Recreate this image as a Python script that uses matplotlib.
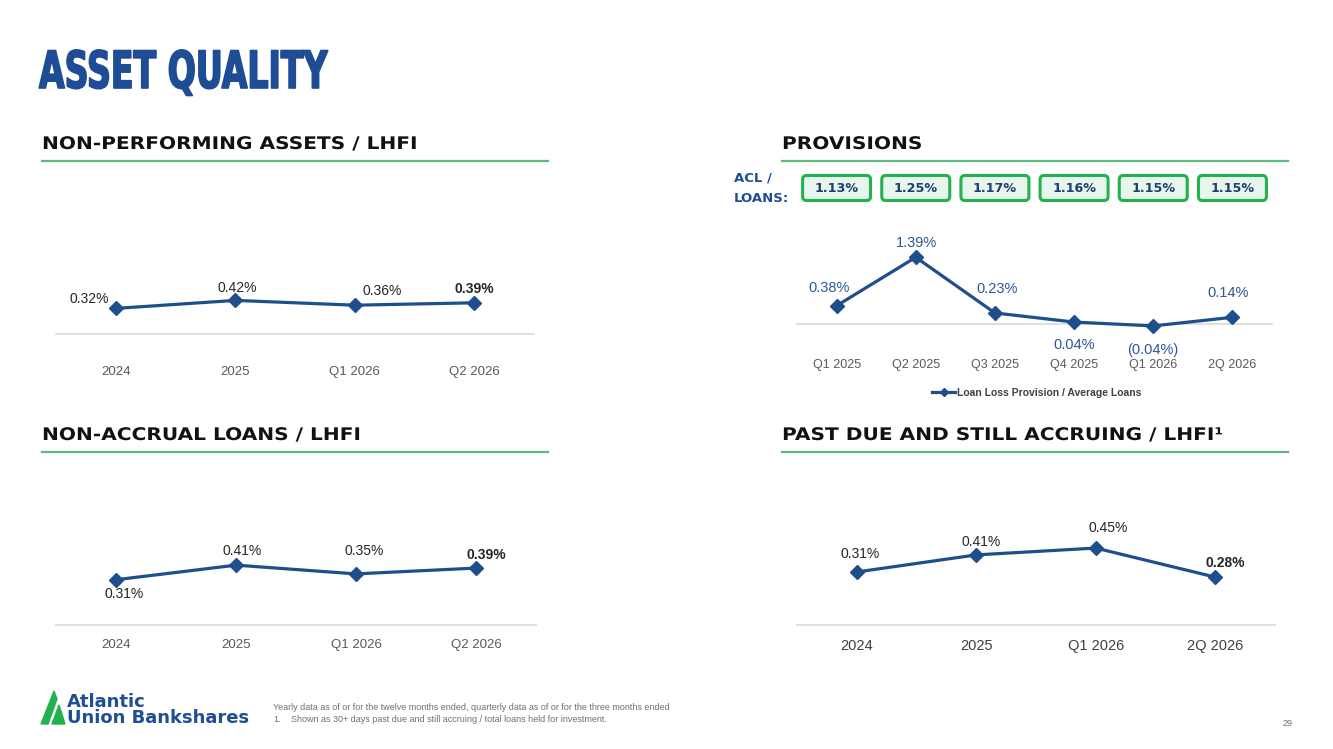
import matplotlib
matplotlib.use("Agg")
import matplotlib.pyplot as plt
from matplotlib.patches import FancyBboxPatch, Polygon
from matplotlib.patheffects import AbstractPathEffect
from matplotlib.transforms import Affine2D, IdentityTransform
from matplotlib.lines import Line2D

# ---- data ----
npa_labels = ["2024", "2025", "Q1 2026", "Q2 2026"]
npa_values = [0.32, 0.42, 0.36, 0.39]

prov_labels = ["Q1 2025", "Q2 2025", "Q3 2025", "Q4 2025", "Q1 2026", "2Q 2026"]
prov_values = [0.38, 1.39, 0.23, 0.04, -0.04, 0.14]
acl_values = [1.13, 1.25, 1.17, 1.16, 1.15, 1.15]

nal_labels = ["2024", "2025", "Q1 2026", "Q2 2026"]
nal_values = [0.31, 0.41, 0.35, 0.39]

pd_labels = ["2024", "2025", "Q1 2026", "2Q 2026"]
pd_values = [0.31, 0.41, 0.45, 0.28]

W, H = 1333, 749
BLUE = "#1F4E8C"
TITLE_BLUE = "#1E4D96"
GREEN_LINE = "#5DB97F"

fig = plt.figure(figsize=(W / 100, H / 100), dpi=100)
fig.patch.set_facecolor("white")


def fx(x):
    return x / W


def fy(y):
    return 1 - y / H


class Squeeze(AbstractPathEffect):
    # scale the glyphs horizontally, optionally with an outline to thicken them
    def __init__(self, sx, stroke=0.0):
        super().__init__()
        self.sx = sx
        self.stroke = stroke

    def draw_path(self, renderer, gc, tpath, affine, rgbFace=None):
        gc0 = renderer.new_gc()
        gc0.copy_properties(gc)
        if self.stroke and rgbFace is not None:
            gc0.set_linewidth(self.stroke)
            gc0.set_foreground(rgbFace)
            gc0.set_joinstyle("round")
        renderer.draw_path(gc0, tpath, Affine2D().scale(self.sx, 1) + affine, rgbFace)
        gc0.restore()


fig.text(fx(39), fy(88), "ASSET QUALITY", fontsize=37, fontweight="heavy",
         color=TITLE_BLUE, family="DejaVu Sans", va="baseline", ha="left",
         path_effects=[Squeeze(0.645, stroke=1.2)])


def header(x0, x1, y, txt):
    fig.text(fx(x0), fy(y), txt, fontsize=12.5, fontweight="bold", color="#111111",
             family="DejaVu Sans", va="center", ha="left",
             path_effects=[Squeeze(1.16)])
    fig.add_artist(Line2D([fx(x0), fx(x1)], [fy(y + 17), fy(y + 17)],
                          color=GREEN_LINE, lw=1.6, transform=fig.transFigure))


header(42, 548, 144, "NON-PERFORMING ASSETS / LHFI")
header(782, 1288, 144, "PROVISIONS")
header(42, 548, 435, "NON-ACCRUAL LOANS / LHFI")
header(782, 1288, 435, "PAST DUE AND STILL ACCRUING / LHFI\u00b9")


def chart(left, right, top, base, px_per_pct, values, labels, offsets,
          bold_last=True, label_color="#262626", tick_color="#595959",
          tick_size=9.5, pad=10, label_size=10):
    ax = fig.add_axes([fx(left), fy(base), (right - left) / W, (base - top) / H])
    n = len(values)
    ax.set_xlim(-0.5, n - 0.5)
    ax.set_ylim(0, (base - top) / px_per_pct)
    for s in ["top", "right", "left"]:
        ax.spines[s].set_visible(False)
    ax.spines["bottom"].set_color("#D9D9D9")
    ax.spines["bottom"].set_linewidth(1.2)
    ax.set_yticks([])
    ax.set_xticks(range(n))
    ax.set_xticklabels(labels, fontsize=tick_size, color=tick_color, family="Liberation Sans")
    ax.tick_params(axis="x", length=0, pad=pad)
    ax.patch.set_alpha(0)
    line, = ax.plot(range(n), values, color=BLUE, lw=2.3, marker="D", ms=7.5,
                    clip_on=False, zorder=3)
    for i, (v, off) in enumerate(zip(values, offsets)):
        txt = f"{v:.2f}%" if v >= 0 else f"({abs(v):.2f}%)"
        bold = bold_last and i == n - 1
        ax.annotate(txt, (i, v), xytext=off, textcoords="offset pixels",
                    ha="center", va="center", fontsize=label_size, color=label_color,
                    fontweight="bold" if bold else "normal", family="Liberation Sans",
                    annotation_clip=False)
    return ax, line


chart(56, 534, 200, 334, 80, npa_values, npa_labels,
      [(-27, 9), (2, 12), (27, 14), (0, 14)], pad=23)

ax_p, prov_line = chart(797, 1272, 220, 324, 48, prov_values, prov_labels,
                        [(-8, 18), (1, 14), (2, 24), (0, -23), (0, -24), (-4, 24)],
                        bold_last=False, label_color="#2F5597", tick_size=9, pad=25,
                        label_size=10.5)

chart(56, 536, 480, 625, 146, nal_values, nal_labels,
      [(8, -14), (6, 14), (8, 23), (10, 13)], pad=10)

chart(797, 1275, 480, 625, 171, pd_values, pd_labels,
      [(3, 18), (5, 13), (12, 20), (10, 14)], tick_color="#404040", tick_size=10.5, pad=10)

# ACL / loans boxes above the provisions chart, centred on each quarter
for i, v in enumerate(acl_values):
    cx = ax_p.transData.transform((i, 0))[0]
    cy = H - 188
    box = FancyBboxPatch((cx - 34, cy - 12.5), 68, 25,
                         boxstyle="round,pad=0,rounding_size=4",
                         transform=IdentityTransform(), facecolor="#E8F5EC",
                         edgecolor="#22B14C", lw=2.2)
    fig.add_artist(box)
    fig.text(fx(cx), fy(189), f"{v:.2f}%", fontsize=9.2, fontweight="bold",
             color="#1F3E6E", ha="center", va="center", family="DejaVu Sans")

fig.text(fx(734), fy(178), "ACL /", fontsize=9.5, fontweight="bold", color="#1F4E95",
         va="center", ha="left", family="DejaVu Sans")
fig.text(fx(734), fy(198), "LOANS:", fontsize=9.5, fontweight="bold", color="#1F4E95",
         va="center", ha="left", family="DejaVu Sans")

fig.legend([prov_line], ["Loan Loss Provision / Average Loans"], loc="center",
           bbox_to_anchor=(fx(1037), fy(393)), frameon=False, handlelength=2.2,
           prop={"size": 7.5, "weight": "bold", "family": "Liberation Sans"},
           labelcolor="#404040", handletextpad=0.2, markerscale=0.6)

# logo and footnotes
fig.add_artist(Polygon([(fx(41), fy(724)), (fx(54), fy(691)), (fx(57), fy(699)), (fx(48), fy(724))],
                       closed=True, color="#22B14C", transform=fig.transFigure))
fig.add_artist(Polygon([(fx(52), fy(724)), (fx(59), fy(705)), (fx(65), fy(724))],
                       closed=True, color="#22B14C", transform=fig.transFigure))
fig.text(fx(67), fy(702), "Atlantic", fontsize=13, fontweight="bold", color="#1F4E95",
         va="center", ha="left", family="DejaVu Sans")
fig.text(fx(67), fy(718), "Union Bankshares", fontsize=13, fontweight="bold", color="#1F4E95",
         va="center", ha="left", family="DejaVu Sans")

fig.text(fx(273), fy(707), "Yearly data as of or for the twelve months ended, quarterly data as of or "
         "for the three months ended", fontsize=6.5, color="#707070", va="center", ha="left",
         family="Liberation Sans")
fig.text(fx(273), fy(719), "1.", fontsize=6.5, color="#707070", va="center", ha="left",
         family="Liberation Sans")
fig.text(fx(291), fy(719), "Shown as 30+ days past due and still accruing / total loans held for investment.",
         fontsize=6.5, color="#707070", va="center", ha="left", family="Liberation Sans")
fig.text(fx(1288), fy(724), "29", fontsize=6.5, color="#707070", va="center", ha="center",
         family="Liberation Sans")

fig.savefig("out.png", dpi=100, facecolor="white")
